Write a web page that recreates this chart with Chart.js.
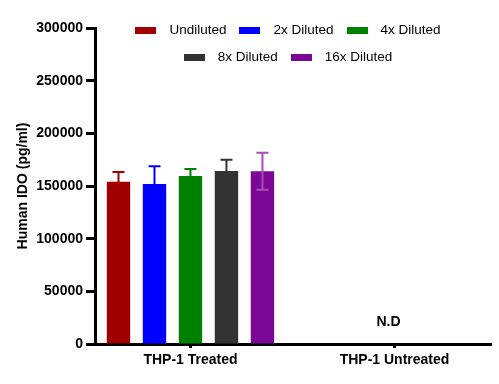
<!DOCTYPE html>
<html>
<head>
<meta charset="utf-8">
<script src="https://cdn.jsdelivr.net/npm/chart.js@4/dist/chart.umd.min.js"></script>
<style>
  html, body { margin: 0; padding: 0; background: #fff; }
  #wrap { width: 499px; height: 384px; }
</style>
</head>
<body>
<div id="wrap"><canvas id="c" width="499" height="384"></canvas></div>
<script>
// ---- data ----
const categories = ['THP-1 Treated', 'THP-1 Untreated'];
const seriesNames = ['Undiluted', '2x Diluted', '4x Diluted', '8x Diluted', '16x Diluted'];
const seriesColors = ['#a00000', '#0000ff', '#008000', '#333333', '#7a0894'];
const errorColors = ['#a00000', '#0000ff', '#008000', '#333333', '#a64cb4'];
const undiluted = [154000, null];
const diluted2x = [151900, null];
const diluted4x = [159500, null];
const diluted8x = [164200, null];
const diluted16x = [164000, null];
const undilutedErr = [9300, null];
const diluted2xErr = [16800, null];
const diluted4xErr = [6600, null];
const diluted8xErr = [10800, null];
const diluted16xErr = [17600, null];
const yTicks = [0, 50000, 100000, 150000, 200000, 250000, 300000];
const notDetectedLabel = 'N.D';
const yTitle = 'Human IDO (pg/ml)';

const seriesValues = [undiluted, diluted2x, diluted4x, diluted8x, diluted16x];
const seriesErrors = [undilutedErr, diluted2xErr, diluted4xErr, diluted8xErr, diluted16xErr];

const FONT = '"Liberation Sans", Arial, sans-serif';
Chart.defaults.font.family = FONT;
Chart.defaults.color = '#000';

const errorBarPlugin = {
  id: 'errorBars',
  afterDatasetsDraw(chart) {
    const ctx = chart.ctx;
    const yScale = chart.scales.y;
    ctx.save();
    seriesValues.forEach((vals, d) => {
      const meta = chart.getDatasetMeta(d);
      meta.data.forEach((bar, i) => {
        const v = vals[i], e = seriesErrors[d][i];
        if (v == null || e == null) return;
        const x = bar.x;
        const yT = yScale.getPixelForValue(v + e);
        const yB = yScale.getPixelForValue(v - e);
        ctx.strokeStyle = errorColors[d];
        ctx.lineWidth = 2;
        ctx.beginPath();
        ctx.moveTo(x, yB); ctx.lineTo(x, yT);
        ctx.moveTo(x - 6, yT); ctx.lineTo(x + 6, yT);
        ctx.moveTo(x - 6, yB); ctx.lineTo(x + 6, yB);
        ctx.stroke();
      });
    });
    // N.D label for the untreated group
    const xs = chart.scales.x;
    ctx.font = 'bold 14px ' + FONT;
    ctx.fillStyle = '#000';
    ctx.textAlign = 'center';
    ctx.textBaseline = 'middle';
    ctx.fillText(notDetectedLabel, xs.getPixelForValue(1) - 6, yScale.getPixelForValue(20500));
    ctx.restore();
  }
};

const legendPlugin = {
  id: 'customLegend',
  afterDraw(chart) {
    const ctx = chart.ctx;
    const rows = [[0, 1, 2], [3, 4]];
    const rowY = [30.5, 57];
    const centerX = 288;
    ctx.save();
    ctx.font = '13.5px ' + FONT;
    ctx.textBaseline = 'middle';
    ctx.textAlign = 'left';
    rows.forEach((row, r) => {
      const widths = row.map(i => ctx.measureText(seriesNames[i]).width);
      const total = widths.reduce((a, w) => a + 34 + w, 0) + 13 * (row.length - 1);
      let x = centerX - total / 2;
      const y = rowY[r];
      row.forEach((i, k) => {
        ctx.fillStyle = seriesColors[i];
        ctx.fillRect(Math.round(x), Math.round(y - 3.5), 21, 7);
        ctx.fillStyle = '#000';
        ctx.fillText(seriesNames[i], x + 34, y);
        x += 34 + widths[k] + 13;
      });
    });
    ctx.restore();
  }
};

const datasets = seriesNames.map((name, d) => ({
  label: name,
  data: seriesValues[d].map((v, i) => ({ x: i, y: v })),
  backgroundColor: seriesColors[d],
  borderWidth: 0,
  categoryPercentage: 0.882,
  barPercentage: 0.65
}));

new Chart(document.getElementById('c'), {
  type: 'bar',
  data: { datasets },
  plugins: [errorBarPlugin, legendPlugin],
  options: {
    responsive: false,
    animation: false,
    devicePixelRatio: 1,
    layout: { padding: { top: 28, right: 8, left: 0, bottom: 0 } },
    plugins: { legend: { display: false }, tooltip: { enabled: false } },
    scales: {
      x: {
        type: 'linear',
        bounds: 'data',
        offset: false,
        min: -0.468,
        max: 1.473,
        afterBuildTicks(s) { s.ticks = categories.map((c, i) => ({ value: i })); },
        ticks: {
          callback: (v) => categories[v],
          font: { size: 14, weight: 'bold' },
          color: '#000',
          padding: 4,
          autoSkip: false,
          maxRotation: 0
        },
        grid: { display: true, offset: false, drawOnChartArea: false, drawTicks: true, tickLength: 4, tickWidth: 3, tickColor: '#000', color: '#000' },
        border: { display: true, width: 3, color: '#000' },
        afterFit(s) { s.height = 40; }
      },
      y: {
        min: 0,
        max: 300000,
        afterBuildTicks(s) { s.ticks = yTicks.map(v => ({ value: v })); },
        ticks: {
          callback: (v) => String(v),
          font: { size: 14, weight: 'bold' },
          color: '#000',
          padding: 3
        },
        grid: { display: true, drawOnChartArea: false, drawTicks: true, tickLength: 9, tickWidth: 3, tickColor: '#000', color: '#000' },
        border: { display: true, width: 3, color: '#000' },
        title: {
          display: true,
          text: yTitle,
          font: { size: 14, weight: 'bold' },
          color: '#000',
          padding: { top: 15, bottom: 0 }
        },
        afterFit(s) { s.width = 95; }
      }
    }
  }
});
</script>
</body>
</html>
